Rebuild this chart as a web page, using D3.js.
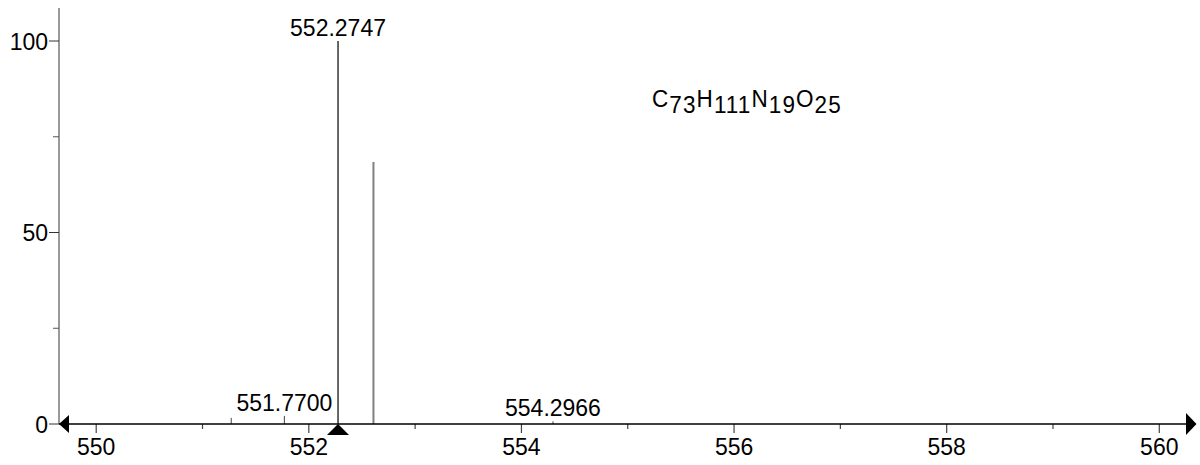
<!DOCTYPE html>
<html><head><meta charset="utf-8">
<script src="https://cdn.jsdelivr.net/npm/d3@7"></script>
<style>
html,body{margin:0;padding:0;background:#fff;}
text{font-family:"Liberation Sans",Arial,Helvetica,sans-serif;fill:#000;}
</style></head>
<body>
<svg id="chart" width="1200" height="465"></svg>
<script>
// ---- data ----
const peakMz = [551.2700, 551.7700, 552.2747, 552.6080, 554.2966];
const peakIntensity = [1.6, 2.1, 100, 68.4, 0.7];
const peakLabels = ["", "551.7700", "552.2747", "", "554.2966"];
const peakColors = ["#444", "#444", "#000", "#808080", "#444"];
const peakWidths = [1, 1, 1.2, 2, 1];
const xMajorTicks = [550, 552, 554, 556, 558, 560];
const xMinorTicks = [551, 553, 555, 557, 559];
const yMajorTicks = [0, 50, 100];
const yMinorTicks = [25, 75];
const basePeak = 552.2747;
const formula = [["C",""],["73","sub"],["H",""],["111","sub"],["N",""],["19","sub"],["O",""],["25","sub"]];

const svg = d3.select("#chart");
const x = d3.scaleLinear().domain([549.65, 560.35]).range([59, 1196.5]);
const y = d3.scaleLinear().domain([0, 100]).range([424, 41]);
const fs = 23, sy = 1.08;

// y axis line
svg.append("line").attr("x1", x.range()[0]).attr("x2", x.range()[0])
  .attr("y1", y(108.6)).attr("y2", y(0)).attr("stroke", "#808080").attr("stroke-width", 1.6);

// y ticks
svg.selectAll(".ymaj").data(yMajorTicks).enter().append("line")
  .attr("x1", x.range()[0] - 10).attr("x2", x.range()[0]).attr("y1", d => y(d)).attr("y2", d => y(d))
  .attr("stroke", "#333").attr("stroke-width", 1);
svg.selectAll(".ymin").data(yMinorTicks).enter().append("line")
  .attr("x1", x.range()[0] - 6).attr("x2", x.range()[0]).attr("y1", d => y(d)).attr("y2", d => y(d))
  .attr("stroke", "#555").attr("stroke-width", 1);
svg.selectAll(".ylab").data(yMajorTicks).enter().append("text")
  .attr("transform", d => `translate(${x.range()[0] - 11},${y(d) + 8.5}) scale(1,${sy})`)
  .attr("text-anchor", "end").attr("font-size", fs).text(d => d);

// x ticks
svg.selectAll(".xmaj").data(xMajorTicks).enter().append("line")
  .attr("x1", d => x(d)).attr("x2", d => x(d)).attr("y1", y(0)).attr("y2", y(0) + 9)
  .attr("stroke", "#444").attr("stroke-width", 1.2);
svg.selectAll(".xmin").data(xMinorTicks).enter().append("line")
  .attr("x1", d => x(d)).attr("x2", d => x(d)).attr("y1", y(0)).attr("y2", y(0) + 5)
  .attr("stroke", "#444").attr("stroke-width", 1.2);
svg.selectAll(".xlab").data(xMajorTicks).enter().append("text")
  .attr("transform", d => `translate(${x(d)},${y(0) + 31}) scale(1,${sy})`)
  .attr("text-anchor", "middle").attr("font-size", fs).text(d => d);

// peaks
const peaks = peakMz.map((m, i) => ({m, v: peakIntensity[i], lab: peakLabels[i], c: peakColors[i], w: peakWidths[i]}));
svg.selectAll(".peak").data(peaks).enter().append("line")
  .attr("x1", d => x(d.m)).attr("x2", d => x(d.m)).attr("y1", y(0)).attr("y2", d => y(d.v))
  .attr("stroke", d => d.c).attr("stroke-width", d => d.w);
svg.selectAll(".plab").data(peaks.filter(d => d.lab)).enter().append("text")
  .attr("transform", d => `translate(${x(d.m)},${y(d.v) - 5}) scale(1,${sy})`)
  .attr("text-anchor", "middle").attr("font-size", fs).text(d => d.lab);

// x axis line
svg.append("line").attr("x1", x.range()[0]).attr("x2", x.range()[1] - 8)
  .attr("y1", y(0)).attr("y2", y(0)).attr("stroke", "#000").attr("stroke-width", 1.5);

// arrows
const x0 = x.range()[0], x1 = x.range()[1], y0 = y(0);
svg.append("path").attr("d", `M${x0},${y0} L${x0 + 10},${y0 - 9} L${x0 + 10},${y0 + 9} Z`).attr("fill", "#000");
svg.append("path").attr("d", `M${x1},${y0} L${x1 - 10.5},${y0 - 11} L${x1 - 10.5},${y0 + 11} Z`).attr("fill", "#000");
const bx = x(basePeak);
svg.append("path").attr("d", `M${bx},${y0} L${bx - 11},${y0 + 11} L${bx + 11},${y0 + 11} Z`).attr("fill", "#000");

// formula
const ft = svg.append("text").attr("transform", `translate(652,107) scale(1,${sy})`)
  .attr("font-size", 22.5).attr("letter-spacing", 1.1);
formula.forEach(([t, k], i) => {
  const ts = ft.append("tspan").text(t);
  if (k === "sub") ts.attr("dy", 6);
  else if (i > 0) ts.attr("dy", -6);
});
</script>
</body></html>
